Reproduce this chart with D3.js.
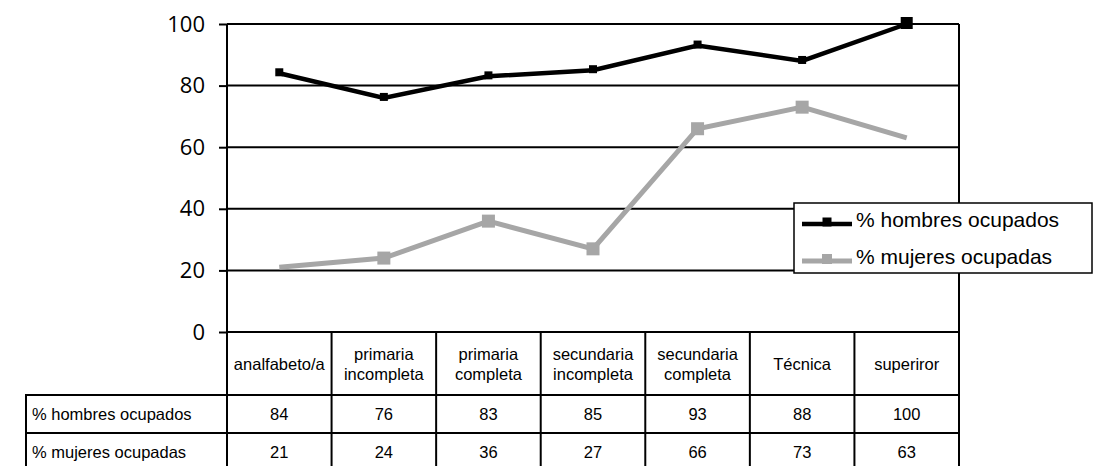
<!DOCTYPE html>
<html>
<head>
<meta charset="utf-8">
<script src="https://cdn.jsdelivr.net/npm/d3@7/dist/d3.min.js"></script>
<style>
  html, body { margin: 0; padding: 0; background: #fff; }
  svg { display: block; }
</style>
</head>
<body>
<svg id="chart" width="1101" height="466"></svg>
<script>
const categories = [
  ["analfabeto/a"],
  ["primaria", "incompleta"],
  ["primaria", "completa"],
  ["secundaria", "incompleta"],
  ["secundaria", "completa"],
  ["Técnica"],
  ["superiror"]
];
const seriesNames = ["% hombres ocupados", "% mujeres ocupadas"];
const hombres = [84, 76, 83, 85, 93, 88, 100];
const mujeres = [21, 24, 36, 27, 66, 73, 63];
const yTicks = [0, 20, 40, 60, 80, 100];

const svg = d3.select("#chart");
const W = 1101, H = 466;
const pLeft = 227, pRight = 959, pTop = 24, pBottom = 332;
const rowH = [pBottom, 395, 433, 471];
const tableLeft = 26;

const keys = categories.map((c, i) => i);
const x = d3.scaleBand().domain(keys).range([pLeft, pRight]);
const y = d3.scaleLinear().domain([0, 100]).range([pBottom, pTop]);

// gridlines
svg.append("g").selectAll("line").data(yTicks).join("line")
  .attr("x1", pLeft).attr("x2", pRight)
  .attr("y1", d => y(d)).attr("y2", d => y(d))
  .attr("stroke", "#000").attr("stroke-width", 2);

// y axis with ticks
const yAxis = d3.axisLeft(y).tickValues(yTicks).tickSize(8).tickPadding(14);
const gy = svg.append("g").attr("transform", `translate(${pLeft},0)`).call(yAxis);
gy.select(".domain").remove();
gy.selectAll(".tick line").attr("stroke", "#000").attr("stroke-width", 2);
gy.selectAll(".tick text")
  .attr("fill", "#000")
  .style("font-family", "'Open Sans', sans-serif")
  .style("font-size", "22px");

// vertical frame lines (left axis, right border) extending through table
svg.append("line").attr("x1", pLeft).attr("x2", pLeft).attr("y1", pTop).attr("y2", H)
  .attr("stroke", "#000").attr("stroke-width", 2);
svg.append("line").attr("x1", pRight).attr("x2", pRight).attr("y1", pTop).attr("y2", H)
  .attr("stroke", "#000").attr("stroke-width", 2);

// table
const tg = svg.append("g");
tg.selectAll("line.col").data(keys.slice(1)).join("line").attr("class", "col")
  .attr("x1", d => x(d)).attr("x2", d => x(d))
  .attr("y1", pBottom).attr("y2", H)
  .attr("stroke", "#000").attr("stroke-width", 2);
tg.append("line").attr("x1", tableLeft).attr("x2", pRight).attr("y1", rowH[1]).attr("y2", rowH[1])
  .attr("stroke", "#000").attr("stroke-width", 2);
tg.append("line").attr("x1", tableLeft).attr("x2", pRight).attr("y1", rowH[2]).attr("y2", rowH[2])
  .attr("stroke", "#000").attr("stroke-width", 2);
tg.append("line").attr("x1", tableLeft).attr("x2", tableLeft).attr("y1", rowH[1] - 1).attr("y2", H)
  .attr("stroke", "#000").attr("stroke-width", 2);

const tableFont = "'Liberation Sans', Arial, sans-serif";
keys.forEach(i => {
  const lines = categories[i];
  const cx = x(i) + x.bandwidth() / 2;
  const cy = (rowH[0] + rowH[1]) / 2;
  const lh = 20;
  lines.forEach((t, j) => {
    tg.append("text")
      .attr("x", cx)
      .attr("y", cy + (j - (lines.length - 1) / 2) * lh + 6)
      .attr("text-anchor", "middle")
      .style("font-family", tableFont).style("font-size", "16.5px")
      .text(t);
  });
});
[hombres, mujeres].forEach((vals, r) => {
  const cy = (rowH[r + 1] + rowH[r + 2]) / 2;
  tg.append("text").attr("x", tableLeft + 6).attr("y", cy + 6)
    .style("font-family", tableFont).style("font-size", "16.5px")
    .text(seriesNames[r]);
  tg.selectAll(null).data(vals).join("text")
    .attr("x", (d, i) => x(i) + x.bandwidth() / 2)
    .attr("y", cy + 6)
    .attr("text-anchor", "middle")
    .style("font-family", tableFont).style("font-size", "16.5px")
    .text(d => d);
});

// lines
const line = d3.line().x((d, i) => x(i) + x.bandwidth() / 2).y(d => y(d));
const gray = "#a6a6a6";
svg.append("path").datum(mujeres).attr("d", line)
  .attr("fill", "none").attr("stroke", gray).attr("stroke-width", 5);
svg.append("path").datum(hombres).attr("d", line)
  .attr("fill", "none").attr("stroke", "#000").attr("stroke-width", 4.5);

// markers
const gm = 13;
svg.append("g").selectAll("rect")
  .data(mujeres.map((v, i) => ({v, i})).filter(d => d.i > 0 && d.i < mujeres.length - 1))
  .join("rect")
  .attr("x", d => x(d.i) + x.bandwidth() / 2 - gm / 2)
  .attr("y", d => y(d.v) - gm / 2)
  .attr("width", gm).attr("height", gm).attr("fill", gray);
const bsz = i => (i === hombres.length - 1 ? 12 : 8);
svg.append("g").selectAll("rect").data(hombres.map((v, i) => ({v, i})))
  .join("rect")
  .attr("x", d => x(d.i) + x.bandwidth() / 2 - bsz(d.i) / 2)
  .attr("y", d => y(d.v) - bsz(d.i) / 2 - 1)
  .attr("width", d => bsz(d.i))
  .attr("height", d => bsz(d.i))
  .attr("fill", "#000");

// legend
const lg = svg.append("g");
lg.append("rect").attr("x", 794).attr("y", 203).attr("width", 298).attr("height", 70)
  .attr("fill", "#fff").attr("stroke", "#000").attr("stroke-width", 1.5);
const legItems = [
  {name: seriesNames[0], color: "#000", y: 224, ms: 9, sw: 4.5},
  {name: seriesNames[1], color: gray, y: 261, ms: 10, sw: 5}
];
legItems.forEach(it => {
  lg.append("line").attr("x1", 802).attr("x2", 852).attr("y1", it.y).attr("y2", it.y)
    .attr("stroke", it.color).attr("stroke-width", it.sw);
  lg.append("rect").attr("x", 827 - it.ms / 2).attr("y", it.y - it.ms / 2 - 2)
    .attr("width", it.ms).attr("height", it.ms).attr("fill", it.color);
  lg.append("text").attr("x", 856).attr("y", it.y + 3)
    .style("font-family", tableFont).style("font-size", "21px")
    .text(it.name);
});
</script>
</body>
</html>
